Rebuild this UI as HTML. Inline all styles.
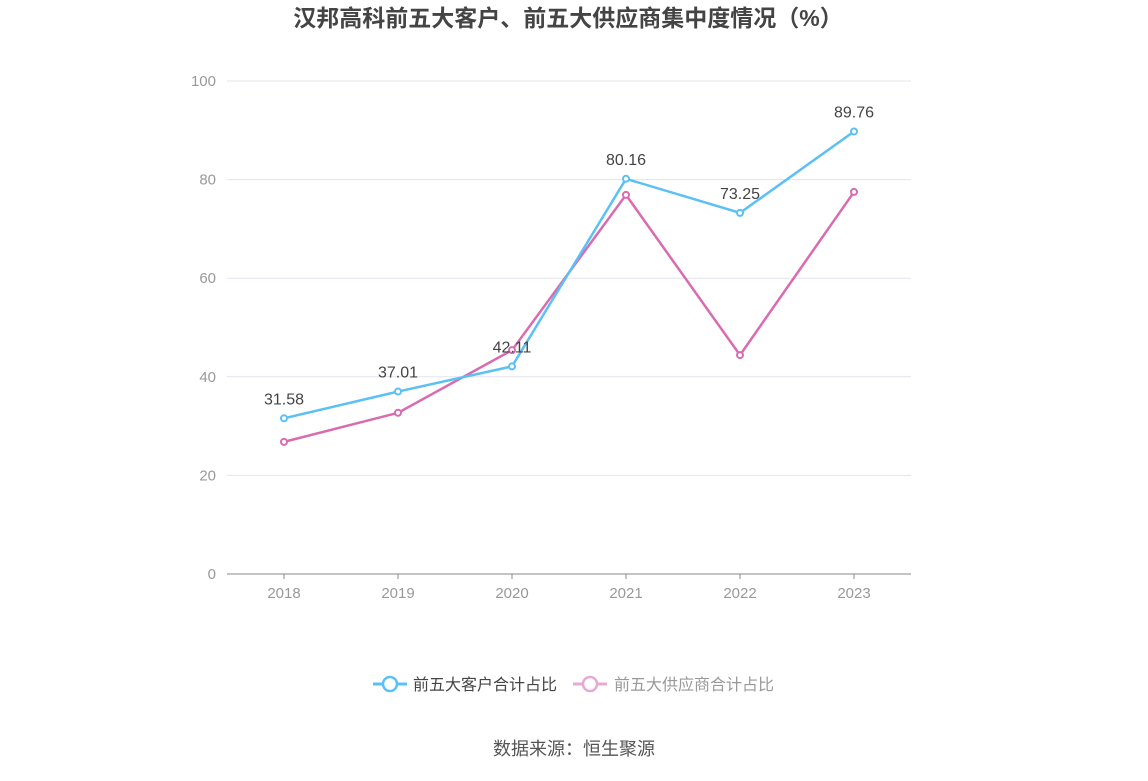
<!DOCTYPE html>
<html><head><meta charset="utf-8"><style>
body{margin:0;background:#fff;font-family:"Liberation Sans","Noto Sans CJK SC",sans-serif;}
</style></head><body>
<svg width="1148" height="776" xmlns="http://www.w3.org/2000/svg" style="font-family:'Liberation Sans','Noto Sans CJK SC',sans-serif">
<text x="568" y="26" text-anchor="middle" font-size="23" font-weight="bold" fill="#444">汉邦高科前五大客户、前五大供应商集中度情况（%）</text>
<g id="grid"></g><g id="axis"></g><g id="series"></g>
<g>
<g><line x1="373" y1="684" x2="407" y2="684" stroke="#5bc0f5" stroke-width="3"/><circle cx="390" cy="684" r="7" fill="#fff" stroke="#5bc0f5" stroke-width="2.5"/><text x="413" y="690" font-size="16" fill="#444">前五大客户合计占比</text></g>
<g><line x1="573" y1="684" x2="607" y2="684" stroke="#e8a8d4" stroke-width="3"/><circle cx="590" cy="684" r="7" fill="#fff" stroke="#e8a8d4" stroke-width="2.5"/><text x="614" y="690" font-size="16" fill="#999">前五大供应商合计占比</text></g>
</g>
<text x="574" y="755" text-anchor="middle" font-size="18" fill="#555">数据来源：恒生聚源</text>
</svg>
<script>
const categories=["2018","2019","2020","2021","2022","2023"];
const customers=[31.58,37.01,42.11,80.16,73.25,89.76];
const suppliers=[26.8,32.7,45.4,76.9,44.4,77.5];
const yTicks=[0,20,40,60,80,100];
const NS="http://www.w3.org/2000/svg";
const x=i=>284+i*114, y=v=>574-v*4.93;
function mk(tag,attrs,parent,txt){const e=document.createElementNS(NS,tag);for(const k in attrs)e.setAttribute(k,attrs[k]);if(txt!==undefined)e.textContent=txt;parent.appendChild(e);return e;}
const grid=document.getElementById('grid'),axis=document.getElementById('axis'),ser=document.getElementById('series');
yTicks.forEach(t=>{
 const l=mk('line',{x1:227,x2:911,y1:y(t),y2:y(t),stroke:t===0?'#888':'#e3e3ee','stroke-width':1},grid);
 
 
 const tx=mk('text',{x:216,y:y(t)+5,'text-anchor':'end','font-size':15,fill:'#999'},axis,t);
 
 
});
categories.forEach((c,i)=>{
 mk('line',{x1:x(i),x2:x(i),y1:574,y2:579,stroke:'#888'},axis);
 const tx=mk('text',{x:x(i),y:598,'text-anchor':'middle','font-size':15,fill:'#999'},axis,c);
 
 
});
function draw(data,color,name,labels){
 const p=mk('polyline',{points:data.map((v,i)=>x(i)+','+y(v)).join(' '),fill:'none',stroke:color,'stroke-width':2.5},ser);
 
 
 data.forEach((v,i)=>{
  const c=mk('circle',{cx:x(i),cy:y(v),r:3,fill:'#fff',stroke:color,'stroke-width':2},ser);
  
  
  if(labels){const t=mk('text',{x:x(i),y:y(v)-14,'text-anchor':'middle','font-size':16,fill:'#444'},ser,v.toFixed(2));
   
   }
 });
}
draw(suppliers,'#d96bb0','suppliers',false);
draw(customers,'#5bc0f5','customers',true);
</script>
</body></html>
